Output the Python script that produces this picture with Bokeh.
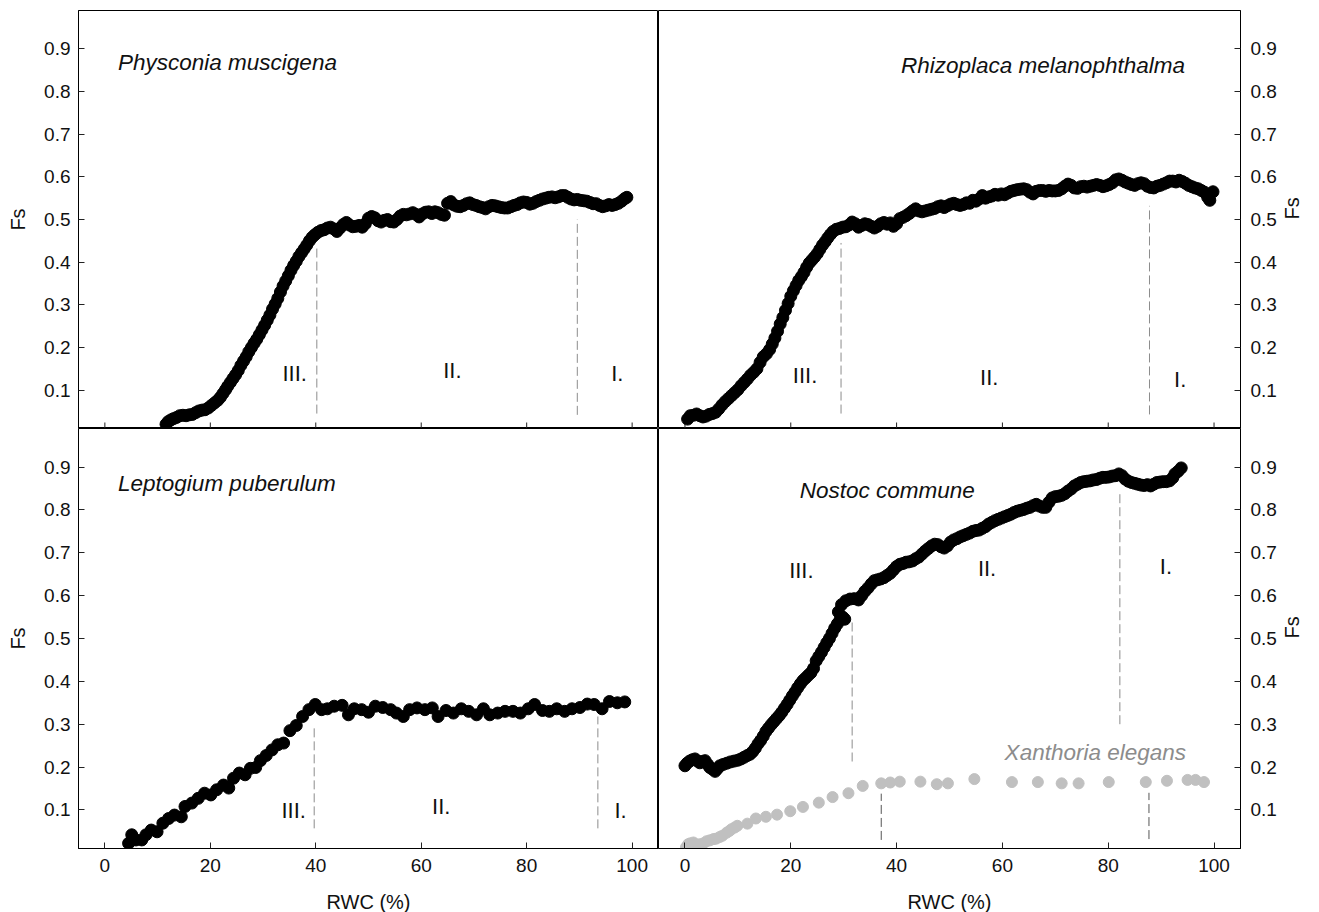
import math
from bokeh.plotting import figure
from bokeh.models import Range1d, FixedTicker, Label, ColumnDataSource
from bokeh.layouts import column, row
from bokeh.embed import file_html
from bokeh.resources import INLINE

# ---------------- data ----------------
x_ticks = [0, 20, 40, 60, 80, 100]
y_ticks = [0.1, 0.2, 0.3, 0.4, 0.5, 0.6, 0.7, 0.8, 0.9]

phys_x = [11.6, 12.0, 12.5, 13.0, 13.6, 14.2, 14.8, 15.4, 16.0, 16.6, 17.2, 17.8, 18.4, 19.0, 19.6,
          20.2, 20.8, 21.4, 21.9, 22.4, 22.9, 23.3, 23.8, 24.3, 24.8, 25.3, 25.8, 26.3, 26.8, 27.3,
          27.8, 28.3, 28.8, 29.3, 29.8, 30.3, 30.8, 31.3, 31.8, 32.3, 32.8, 33.3, 33.8, 34.3, 34.8,
          35.3, 35.8, 36.3, 36.8, 37.3, 37.8, 38.3, 38.8, 39.3, 39.8, 40.4, 41.0, 41.6, 42.2, 42.8,
          43.4, 44.0, 44.6, 45.2, 45.8, 46.4, 47.0, 47.6, 48.2, 48.8, 49.4, 50.0, 50.6, 51.2, 51.8,
          52.4, 53.0, 53.6, 54.2, 54.8, 55.4, 56.0, 56.6, 57.2, 57.8, 58.4, 59.0, 59.6, 60.2, 60.8,
          61.4, 62.0, 62.6, 63.2, 63.8, 64.4, 65.0, 65.6, 66.2, 66.8, 67.4, 68.0, 68.6, 69.2, 69.8,
          70.4, 71.0, 71.6, 72.2, 72.8, 73.4, 74.0, 74.6, 75.2, 75.8, 76.4, 77.0, 77.6, 78.2, 78.8,
          79.4, 80.0, 80.6, 81.2, 81.8, 82.4, 83.0, 83.6, 84.2, 84.8, 85.4, 86.0, 86.6, 87.2, 87.8,
          88.4, 89.0, 89.6, 90.2, 90.8, 91.4, 92.0, 92.6, 93.2, 93.8, 94.4, 95.0, 95.6, 96.2, 96.8,
          97.4, 98.0, 98.6, 99.0]
phys_y = [0.020, 0.026, 0.030, 0.033, 0.036, 0.040, 0.041, 0.040, 0.042, 0.043, 0.047, 0.051, 0.053, 0.054, 0.058,
          0.064, 0.070, 0.076, 0.083, 0.092, 0.101, 0.109, 0.118, 0.127, 0.136, 0.146, 0.158, 0.168, 0.178, 0.190,
          0.200, 0.210, 0.219, 0.230, 0.241, 0.252, 0.264, 0.276, 0.290, 0.302, 0.315, 0.330, 0.344, 0.356, 0.368,
          0.381, 0.392, 0.402, 0.413, 0.422, 0.431, 0.440, 0.450, 0.458, 0.464, 0.470, 0.474, 0.476, 0.480, 0.482,
          0.478, 0.472, 0.480, 0.488, 0.493, 0.487, 0.483, 0.484, 0.486, 0.482, 0.490, 0.503, 0.507, 0.504, 0.497,
          0.494, 0.498, 0.500, 0.495, 0.494, 0.500, 0.508, 0.512, 0.511, 0.513, 0.516, 0.512, 0.506, 0.513, 0.517,
          0.518, 0.514, 0.518, 0.516, 0.512, 0.510, 0.538, 0.542, 0.534, 0.531, 0.530, 0.533, 0.537, 0.539, 0.535,
          0.533, 0.530, 0.528, 0.525, 0.530, 0.533, 0.532, 0.530, 0.528, 0.527, 0.527, 0.530, 0.533, 0.535, 0.539,
          0.541, 0.540, 0.536, 0.538, 0.542, 0.545, 0.548, 0.550, 0.552, 0.553, 0.551, 0.553, 0.556, 0.556, 0.552,
          0.548, 0.546, 0.547, 0.545, 0.544, 0.543, 0.540, 0.537, 0.537, 0.533, 0.530, 0.532, 0.535, 0.533, 0.535,
          0.538, 0.543, 0.549, 0.552]

rhizo_x = [0.5, 1.0, 1.6, 2.2, 2.8, 3.4, 4.0, 4.6, 5.2, 5.8, 6.4, 7.0, 7.6, 8.2, 8.8, 9.4, 10.0, 10.6, 11.2,
           11.8, 12.4, 13.0, 13.6, 14.2, 14.8, 15.4, 16.0, 16.5, 17.0, 17.5, 18.0, 18.5, 19.0, 19.5, 20.0,
           20.5, 21.0, 21.5, 22.0, 22.5, 23.0, 23.5, 24.0, 24.5, 25.0, 25.5, 26.0, 26.5, 27.0, 27.5, 28.0,
           28.6, 29.2, 29.8, 30.4, 31.0, 31.6, 32.2, 32.8, 33.4, 34.0, 34.6, 35.2, 35.8, 36.4, 37.0, 37.6,
           38.2, 38.8, 39.4, 40.0, 40.6, 41.2, 41.8, 42.4, 43.0, 43.6, 44.2, 44.8, 45.4, 46.0, 46.6, 47.2,
           47.8, 48.4, 49.0, 49.6, 50.2, 50.8, 51.4, 52.0, 52.6, 53.2, 53.8, 54.4, 55.0, 55.6, 56.2, 56.8,
           57.4, 58.0, 58.6, 59.2, 59.8, 60.4, 61.0, 61.6, 62.2, 62.8, 63.4, 64.0, 64.6, 65.2, 65.8, 66.4,
           67.0, 67.6, 68.2, 68.8, 69.4, 70.0, 70.6, 71.2, 71.8, 72.4, 73.0, 73.6, 74.2, 74.8, 75.4, 76.0,
           76.6, 77.2, 77.8, 78.4, 79.0, 79.6, 80.2, 80.8, 81.4, 82.0, 82.6, 83.2, 83.8, 84.4, 85.0, 85.6,
           86.2, 86.8, 87.4, 88.0, 88.6, 89.2, 89.8, 90.4, 91.0, 91.6, 92.2, 92.8, 93.4, 94.0, 94.6, 95.2,
           95.8, 96.4, 97.0, 97.6, 98.2, 98.8, 99.2, 99.8]
rhizo_y = [0.032, 0.040, 0.041, 0.044, 0.040, 0.037, 0.039, 0.043, 0.045, 0.048, 0.056, 0.065, 0.073, 0.080, 0.087, 0.094, 0.101, 0.110, 0.118,
           0.126, 0.135, 0.142, 0.150, 0.165, 0.178, 0.185, 0.195, 0.208, 0.222, 0.238, 0.255, 0.270, 0.287, 0.303, 0.320,
           0.333, 0.345, 0.357, 0.366, 0.376, 0.388, 0.398, 0.405, 0.412, 0.420, 0.430, 0.440, 0.448, 0.457, 0.465, 0.472,
           0.477, 0.479, 0.482, 0.483, 0.487, 0.494, 0.490, 0.482, 0.486, 0.490, 0.488, 0.484, 0.480, 0.484, 0.490, 0.493,
           0.489, 0.492, 0.484, 0.490, 0.502, 0.505, 0.509, 0.514, 0.520, 0.525, 0.520, 0.518, 0.520, 0.522, 0.524, 0.526,
           0.530, 0.532, 0.528, 0.532, 0.536, 0.538, 0.535, 0.533, 0.535, 0.539, 0.538, 0.545, 0.543, 0.548, 0.556, 0.550,
           0.553, 0.555, 0.559, 0.557, 0.560, 0.558, 0.562, 0.566, 0.568, 0.570, 0.571, 0.572, 0.570, 0.564, 0.560, 0.566,
           0.568, 0.568, 0.566, 0.568, 0.567, 0.567, 0.568, 0.572, 0.578, 0.583, 0.580, 0.574, 0.573, 0.577, 0.578, 0.576,
           0.578, 0.580, 0.582, 0.580, 0.577, 0.579, 0.582, 0.586, 0.593, 0.595, 0.592, 0.588, 0.585, 0.582, 0.580, 0.584,
           0.586, 0.584, 0.578, 0.575, 0.574, 0.578, 0.580, 0.583, 0.586, 0.590, 0.590, 0.588, 0.592, 0.589, 0.585, 0.580,
           0.577, 0.574, 0.572, 0.568, 0.564, 0.552, 0.545, 0.565]

lepto_x = [4.5, 5.1, 5.9, 7.0, 7.8, 8.8, 9.9, 11.0, 12.1, 13.2, 14.5, 15.2, 16.5, 17.7, 18.9, 20.1, 21.2,
           22.5, 23.5, 24.4, 25.5, 26.6, 27.6, 28.6, 29.5, 30.6, 31.7, 32.8, 33.9, 35.1, 36.3, 37.5, 38.7,
           39.9, 41.1, 42.2, 43.5, 45.0, 46.2, 47.3, 48.7, 50.0, 51.3, 52.7, 54.2, 55.3, 56.6, 57.8, 59.2,
           60.7, 62.1, 63.2, 64.7, 66.1, 67.6, 69.0, 70.5, 71.8, 73.0, 74.5, 75.9, 77.4, 78.8, 80.3, 81.5,
           83.0, 84.3, 85.7, 87.2, 88.6, 90.1, 91.5, 92.8, 94.3, 95.7, 97.2, 98.6]
lepto_y = [0.022, 0.042, 0.030, 0.030, 0.042, 0.053, 0.049, 0.069, 0.080, 0.088, 0.084, 0.108, 0.116, 0.127, 0.139, 0.135, 0.147,
           0.158, 0.151, 0.174, 0.186, 0.182, 0.197, 0.199, 0.215, 0.227, 0.240, 0.252, 0.256, 0.285, 0.297, 0.318, 0.334,
           0.346, 0.334, 0.336, 0.342, 0.344, 0.322, 0.336, 0.334, 0.328, 0.342, 0.339, 0.334, 0.326, 0.318, 0.334, 0.338,
           0.334, 0.338, 0.318, 0.332, 0.326, 0.336, 0.330, 0.322, 0.336, 0.322, 0.326, 0.330, 0.330, 0.326, 0.336, 0.346,
           0.332, 0.330, 0.336, 0.330, 0.336, 0.339, 0.347, 0.346, 0.336, 0.353, 0.350, 0.352]

nostoc_x = [0.0, 0.4, 0.9, 1.4, 1.9, 2.4, 2.8, 3.3, 3.8, 4.3, 4.7, 5.2, 5.7, 6.2, 6.6, 7.2, 7.9, 8.6, 9.3,
            10.0, 10.6, 11.2, 11.8, 12.3, 12.8, 13.3, 13.8, 14.3, 14.8, 15.3, 15.8, 16.3, 16.8, 17.3, 17.8,
            18.3, 18.8, 19.3, 19.8, 20.3, 20.8, 21.3, 21.8, 22.3, 22.8, 23.3, 23.8, 24.3, 24.8, 25.3, 25.8,
            26.3, 26.8, 27.3, 27.8, 28.3, 28.8, 29.3, 29.8, 30.2, 29.0, 29.6, 30.4, 31.2, 32.0, 32.8, 33.4,
            34.0, 34.6, 35.2, 35.8, 36.4, 37.0, 37.6, 38.2, 38.8, 39.4, 40.0, 40.6, 41.2, 41.8, 42.4, 43.0,
            43.6, 44.2, 44.8, 45.4, 46.0, 46.6, 47.2, 47.8, 48.4, 49.0, 49.6, 50.2, 50.8, 51.4, 52.0, 52.6,
            53.2, 53.8, 54.4, 55.0, 55.6, 56.2, 56.8, 57.4, 58.0, 58.6, 59.2, 59.8, 60.4, 61.0, 61.6, 62.2,
            62.8, 63.4, 64.0, 64.6, 65.2, 65.8, 66.4, 67.0, 67.6, 68.2, 68.8, 69.4, 70.0, 70.6, 71.2, 71.8,
            72.4, 73.0, 73.6, 74.2, 74.8, 75.4, 76.0, 76.6, 77.2, 77.8, 78.4, 79.0, 79.6, 80.2, 80.8, 81.4,
            82.0, 82.6, 83.2, 83.8, 84.4, 85.0, 85.6, 86.2, 86.8, 87.4, 88.0, 88.6, 89.2, 89.8, 90.4, 91.0,
            91.6, 92.2, 92.6, 93.2, 93.8]
nostoc_y = [0.203, 0.209, 0.214, 0.217, 0.219, 0.214, 0.210, 0.213, 0.215, 0.206, 0.199, 0.195, 0.190, 0.197, 0.203, 0.206, 0.209, 0.212, 0.214,
            0.216, 0.219, 0.223, 0.227, 0.230, 0.236, 0.244, 0.254, 0.262, 0.272, 0.283, 0.291, 0.299, 0.306, 0.313, 0.320,
            0.328, 0.337, 0.346, 0.356, 0.366, 0.375, 0.385, 0.394, 0.402, 0.408, 0.414, 0.420, 0.430, 0.448, 0.458, 0.468,
            0.479, 0.490, 0.500, 0.512, 0.524, 0.534, 0.543, 0.550, 0.545, 0.562, 0.579, 0.588, 0.592, 0.593, 0.590, 0.600,
            0.610, 0.618, 0.627, 0.635, 0.637, 0.639, 0.642, 0.647, 0.652, 0.660, 0.668, 0.673, 0.675, 0.678, 0.679, 0.681,
            0.686, 0.690, 0.697, 0.704, 0.710, 0.716, 0.720, 0.719, 0.714, 0.711, 0.716, 0.725, 0.730, 0.733, 0.737, 0.740,
            0.743, 0.746, 0.750, 0.752, 0.753, 0.757, 0.761, 0.767, 0.771, 0.775, 0.778, 0.781, 0.784, 0.787, 0.790, 0.794,
            0.797, 0.799, 0.801, 0.804, 0.806, 0.810, 0.813, 0.809, 0.806, 0.806, 0.818, 0.828, 0.831, 0.832, 0.834, 0.838,
            0.844, 0.849, 0.856, 0.860, 0.864, 0.866, 0.867, 0.868, 0.870, 0.871, 0.874, 0.876, 0.876, 0.877, 0.879, 0.880,
            0.884, 0.880, 0.872, 0.867, 0.864, 0.862, 0.860, 0.858, 0.857, 0.859, 0.856, 0.860, 0.864, 0.865, 0.866, 0.866,
            0.868, 0.875, 0.884, 0.890, 0.898]

xanth_x = [0.2, 0.6, 1.0, 1.6, 2.2, 2.8, 3.5, 4.1, 4.7, 5.4, 5.9, 6.6, 7.1, 7.9, 8.4, 8.8, 9.4, 9.9,
           11.8, 13.4, 15.3, 17.4, 19.9, 22.3, 25.3, 27.9, 30.9, 33.6, 37.1, 38.8, 40.6, 44.5, 47.6,
           49.7, 54.7, 61.8, 66.7, 71.2, 74.4, 80.1, 87.1, 91.1, 95.0, 96.5, 98.1]
xanth_y = [0.013, 0.020, 0.022, 0.024, 0.019, 0.020, 0.022, 0.027, 0.029, 0.032, 0.033, 0.037, 0.040, 0.047, 0.051, 0.055, 0.059, 0.063,
           0.068, 0.080, 0.084, 0.089, 0.097, 0.107, 0.117, 0.130, 0.139, 0.156, 0.162, 0.164, 0.166, 0.166, 0.160,
           0.162, 0.172, 0.165, 0.165, 0.162, 0.162, 0.165, 0.165, 0.168, 0.170, 0.170, 0.165]

# phase boundaries (RWC) and the Fs span of each dashed marker
phys_bounds = [40.2, 89.6]
phys_lo = [0.045, 0.042]
phys_hi = [0.435, 0.500]
rhizo_bounds = [29.5, 87.8]
rhizo_lo = [0.045, 0.043]
rhizo_hi = [0.445, 0.532]
lepto_bounds = [39.7, 93.5]
lepto_lo = [0.057, 0.057]
lepto_hi = [0.297, 0.318]
nostoc_bounds = [31.6, 82.2]
nostoc_lo = [0.213, 0.300]
nostoc_hi = [0.541, 0.845]
xanth_bounds = [37.1, 87.7]
xanth_lo = [0.030, 0.032]
xanth_hi = [0.138, 0.140]

phase_names = ["III.", "II.", "I."]
phys_phase_x = [36.0, 65.9, 97.2]
phys_phase_y = [0.140, 0.146, 0.139]
rhizo_phase_x = [22.7, 57.5, 93.6]
rhizo_phase_y = [0.135, 0.130, 0.124]
lepto_phase_x = [35.8, 63.8, 97.8]
lepto_phase_y = [0.098, 0.108, 0.098]
nostoc_phase_x = [22.0, 57.1, 90.9]
nostoc_phase_y = [0.659, 0.664, 0.668]

FONT = "Liberation Sans"
X_RANGE = (-5, 105)
Y_RANGE = (0.01, 0.99)
TOP_FRAME_H = 418
TICK_PX = 6


def make_panel(side, bottom):
    left = side == "left"
    p = figure(
        frame_width=580 if left else 582,
        frame_height=420 if bottom else TOP_FRAME_H,
        x_range=Range1d(*X_RANGE), y_range=Range1d(*Y_RANGE),
        output_backend="svg", toolbar_location=None,
        y_axis_location="left" if left else "right",
        x_axis_location="below" if bottom else None,
        min_border_left=78 if left else 0,
        min_border_right=0 if left else 79,
        min_border_top=0 if bottom else 10,
        min_border_bottom=64 if bottom else 0,
        background_fill_color="white", border_fill_color="white",
    )
    p.grid.visible = False
    p.outline_line_color = "black"
    p.outline_line_width = 1
    p.outline_line_alpha = 1

    for ax in p.xaxis + p.yaxis:
        ax.major_tick_in = TICK_PX
        ax.major_tick_out = 0
        ax.minor_tick_line_color = None
        ax.axis_line_color = "black"
        ax.major_tick_line_color = "#222222"
        ax.major_label_text_font = FONT
        ax.major_label_text_font_size = "19px"
        ax.major_label_text_color = "#111111"
        ax.axis_label_text_font = FONT
        ax.axis_label_text_font_size = "20px"
        ax.axis_label_text_font_style = "normal"
        ax.axis_label_text_color = "#111111"

    p.yaxis.ticker = FixedTicker(ticks=y_ticks)
    ya = p.yaxis[0]
    ya.axis_label = "Fs"
    ya.major_label_standoff = 8 if left else 10
    ya.axis_label_standoff = 12
    if not left:
        try:
            ya.axis_label_orientation = math.pi / 2
        except Exception:
            pass

    if bottom:
        p.xaxis.ticker = FixedTicker(ticks=x_ticks)
        xa = p.xaxis[0]
        xa.axis_label = "RWC (%)"
        xa.major_label_standoff = 10
        xa.axis_label_standoff = 16
    else:
        # inward tick marks on the lower edge, without labels
        tick_len = TICK_PX * (Y_RANGE[1] - Y_RANGE[0]) / TOP_FRAME_H
        src = ColumnDataSource(dict(x0=x_ticks, y0=[Y_RANGE[0]] * len(x_ticks),
                                    x1=x_ticks, y1=[Y_RANGE[0] + tick_len] * len(x_ticks)))
        p.segment("x0", "y0", "x1", "y1", source=src, line_color="#222222", line_width=1)
    return p


def add_species(p, xs, ys, color, size):
    src = ColumnDataSource(dict(x=xs, y=ys))
    p.scatter("x", "y", source=src, size=size, marker="circle",
              fill_color=color, line_color=color)


def add_bounds(p, bx, lo, hi, color):
    src = ColumnDataSource(dict(x0=bx, y0=lo, x1=bx, y1=hi))
    p.segment("x0", "y0", "x1", "y1", source=src, line_color=color,
              line_width=1, line_dash="9 4")


def add_phases(p, px, py):
    for name, x, y in zip(phase_names, px, py):
        p.add_layout(Label(x=x, y=y, text=name, text_align="center", text_baseline="middle",
                           text_font=FONT, text_font_size="22px", text_color="#111111"))


def add_title(p, text, x, y, align, color="#111111"):
    p.add_layout(Label(x=x, y=y, text=text, text_align=align, text_baseline="middle",
                       text_font=FONT, text_font_size="22.5px", text_font_style="italic",
                       text_color=color))


tl = make_panel("left", False)
add_bounds(tl, phys_bounds, phys_lo, phys_hi, "#8c8c8c")
add_species(tl, phys_x, phys_y, "black", 12)
add_phases(tl, phys_phase_x, phys_phase_y)
add_title(tl, "Physconia muscigena", 2.5, 0.867, "left")

tr = make_panel("right", False)
add_bounds(tr, rhizo_bounds, rhizo_lo, rhizo_hi, "#8c8c8c")
add_species(tr, rhizo_x, rhizo_y, "black", 12)
add_phases(tr, rhizo_phase_x, rhizo_phase_y)
add_title(tr, "Rhizoplaca melanophthalma", 94.5, 0.862, "right")

bl = make_panel("left", True)
add_bounds(bl, lepto_bounds, lepto_lo, lepto_hi, "#8c8c8c")
add_species(bl, lepto_x, lepto_y, "black", 12)
add_phases(bl, lepto_phase_x, lepto_phase_y)
add_title(bl, "Leptogium puberulum", 2.5, 0.861, "left")

br = make_panel("right", True)
add_bounds(br, nostoc_bounds, nostoc_lo, nostoc_hi, "#8c8c8c")
add_bounds(br, xanth_bounds, xanth_lo, xanth_hi, "#555555")
add_species(br, xanth_x, xanth_y, "#c0c0c0", 11)
add_species(br, nostoc_x, nostoc_y, "black", 12)
add_phases(br, nostoc_phase_x, nostoc_phase_y)
add_title(br, "Nostoc commune", 21.7, 0.846, "left")
add_title(br, "Xanthoria elegans", 94.7, 0.234, "right", color="#8c8c8c")

layout = column(row(tl, tr, spacing=0), row(bl, br, spacing=0), spacing=0)

open("out.html", "w").write(file_html(layout, INLINE))
